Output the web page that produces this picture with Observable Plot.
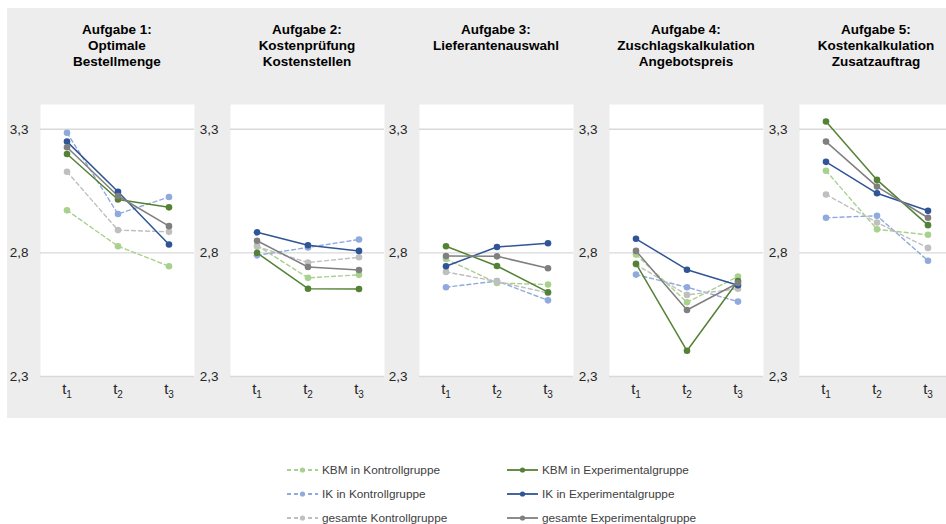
<!DOCTYPE html>
<html>
<head>
<meta charset="utf-8">
<script src="https://cdn.jsdelivr.net/npm/d3@7"></script>
<script src="https://cdn.jsdelivr.net/npm/@observablehq/plot@0.6"></script>
<style>
  html, body { margin: 0; padding: 0; background: #ffffff; }
  body { font-family: "Liberation Sans", Arial, sans-serif; }
  #root { position: relative; width: 946px; height: 524px; overflow: hidden; }
  #bg { position: absolute; left: 7px; top: 8px; width: 939px; height: 410px; background: #ededed; }
  .panel { position: absolute; top: 90px; width: 189px; height: 328px; }
  .panel svg { max-width: none !important; }
  .title { position: absolute; top: 22px; width: 154px; text-align: center; font-weight: bold;
           font-size: 13.5px; line-height: 16px; color: #000; white-space: nowrap; }
  .leg { position: absolute; font-size: 11.8px; color: #404040; white-space: nowrap; }
</style>
</head>
<body>
<div id="root"><div id="bg"></div></div>
<script>
// ---- data ----
const tasks = [
  "Aufgabe 1:\nOptimale\nBestellmenge",
  "Aufgabe 2:\nKostenprüfung\nKostenstellen",
  "Aufgabe 3:\nLieferantenauswahl",
  "Aufgabe 4:\nZuschlagskalkulation\nAngebotspreis",
  "Aufgabe 5:\nKostenkalkulation\nZusatzauftrag"
];
const times = ["t1", "t2", "t3"];
const yTicks = [2.3, 2.8, 3.3];
const seriesNames = [
  "KBM in Kontrollgruppe", "KBM in Experimentalgruppe",
  "IK in Kontrollgruppe", "IK in Experimentalgruppe",
  "gesamte Kontrollgruppe", "gesamte Experimentalgruppe"
];
const seriesColors = ["#a9d18e", "#548235", "#8faadc", "#2f5597", "#bfbfbf", "#7f7f7f"];
const seriesDashed = [true, false, true, false, true, false];

// values per task: [t1, t2, t3]
const kbmKontroll = [[2.972, 2.827, 2.746], [2.830, 2.699, 2.711], [2.775, 2.678, 2.672], [2.793, 2.600, 2.704], [3.132, 2.895, 2.873]];
const kbmExperimental = [[3.200, 3.016, 2.984], [2.800, 2.655, 2.654], [2.827, 2.747, 2.641], [2.756, 2.404, 2.686], [3.331, 3.095, 2.912]];
const ikKontroll = [[3.286, 2.957, 3.026], [2.790, 2.822, 2.854], [2.661, 2.686, 2.608], [2.712, 2.661, 2.603], [2.942, 2.950, 2.768]];
const ikExperimental = [[3.250, 3.047, 2.834], [2.883, 2.831, 2.808], [2.746, 2.824, 2.839], [2.857, 2.732, 2.669], [3.168, 3.041, 2.970]];
const gesamtKontroll = [[3.128, 2.892, 2.885], [2.825, 2.761, 2.782], [2.723, 2.684, 2.638], [2.753, 2.630, 2.655], [3.036, 2.923, 2.820]];
const gesamtExperimental = [[3.227, 3.030, 2.908], [2.849, 2.743, 2.731], [2.787, 2.786, 2.738], [2.808, 2.569, 2.678], [3.250, 3.068, 2.942]];

const seriesValues = [kbmKontroll, kbmExperimental, ikKontroll, ikExperimental, gesamtKontroll, gesamtExperimental];

// ---- layout ----
const root = document.getElementById("root");
const fontFamily = '"Liberation Sans", Arial, sans-serif';
const plotLeft = [40, 230, 419, 609, 799];
const mLeft = 35;

tasks.forEach((task, ti) => {
  const rows = [];
  seriesNames.forEach((s, si) => {
    times.forEach((t, j) => rows.push({series: s, dashed: seriesDashed[si], time: t, value: seriesValues[si][ti][j]}));
  });
  const dashedRows = rows.filter(d => d.dashed);
  const solidRows = rows.filter(d => !d.dashed);

  const chart = Plot.plot({
    width: 189,
    height: 328,
    marginLeft: mLeft,
    marginRight: 0,
    marginTop: 14,
    marginBottom: 42,
    style: {background: "transparent", fontFamily, fontSize: "13.5px", color: "#262626", overflow: "visible"},
    x: {type: "band", domain: times, padding: 0, tickSize: 0, tickPadding: 7, label: null},
    y: {domain: [2.3, 3.4], ticks: yTicks, tickSize: 0, tickPadding: 12, label: null,
        tickFormat: d => d.toFixed(1).replace(".", ",")},
    color: {domain: seriesNames, range: seriesColors},
    marks: [
      Plot.frame({fill: "white", stroke: null}),
      Plot.gridY(yTicks, {stroke: "#d9d9d9", strokeOpacity: 1, strokeWidth: 1.3}),
      Plot.line(dashedRows, {x: "time", y: "value", z: "series", stroke: "series", strokeWidth: 1.4, strokeDasharray: "4,3"}),
      Plot.dot(dashedRows, {x: "time", y: "value", fill: "series", r: 3.3}),
      Plot.line(solidRows, {x: "time", y: "value", z: "series", stroke: "series", strokeWidth: 1.5}),
      Plot.dot(solidRows, {x: "time", y: "value", fill: "series", r: 3.3})
    ]
  });
  chart.style.maxWidth = "none";
  // subscripts on time labels
  chart.querySelectorAll('g[aria-label="x-axis tick label"] text').forEach(t => {
    const s = t.textContent;
    t.textContent = s[0];
    t.setAttribute("font-size", "15");
    const sub = document.createElementNS("http://www.w3.org/2000/svg", "tspan");
    sub.setAttribute("font-size", "10");
    sub.setAttribute("dy", "0.4em");
    sub.textContent = s.slice(1);
    t.appendChild(sub);
  });
  const wrap = document.createElement("div");
  wrap.className = "panel";
  wrap.style.left = (plotLeft[ti] - mLeft) + "px";
  wrap.appendChild(chart);
  root.appendChild(wrap);

  const title = document.createElement("div");
  title.className = "title";
  title.style.left = plotLeft[ti] + "px";
  title.innerHTML = task.split("\n").join("<br>");
  root.appendChild(title);
});

// ---- legend ----
const legX = [287, 507];
const legY = [470, 494, 518];
const legOrder = [[0, 2, 4], [1, 3, 5]];
legOrder.forEach((col, ci) => {
  col.forEach((si, ri) => {
    const svgNS = "http://www.w3.org/2000/svg";
    const svg = document.createElementNS(svgNS, "svg");
    svg.setAttribute("width", 32);
    svg.setAttribute("height", 10);
    svg.style.position = "absolute";
    svg.style.left = legX[ci] + "px";
    svg.style.top = (legY[ri] - 5) + "px";
    const line = document.createElementNS(svgNS, "line");
    line.setAttribute("x1", 0); line.setAttribute("x2", 31);
    line.setAttribute("y1", 5); line.setAttribute("y2", 5);
    line.setAttribute("stroke", seriesColors[si]);
    line.setAttribute("stroke-width", 1.8);
    if (seriesDashed[si]) line.setAttribute("stroke-dasharray", "4,3");
    svg.appendChild(line);
    const c = document.createElementNS(svgNS, "circle");
    c.setAttribute("cx", 15.5); c.setAttribute("cy", 5); c.setAttribute("r", 2.6);
    c.setAttribute("fill", seriesColors[si]);
    svg.appendChild(c);
    root.appendChild(svg);
    const lab = document.createElement("div");
    lab.className = "leg";
    lab.style.left = (legX[ci] + 35) + "px";
    lab.style.top = (legY[ri] - 7) + "px";
    lab.style.lineHeight = "14px";
    lab.textContent = seriesNames[si];
    root.appendChild(lab);
  });
});
</script>
</body>
</html>
